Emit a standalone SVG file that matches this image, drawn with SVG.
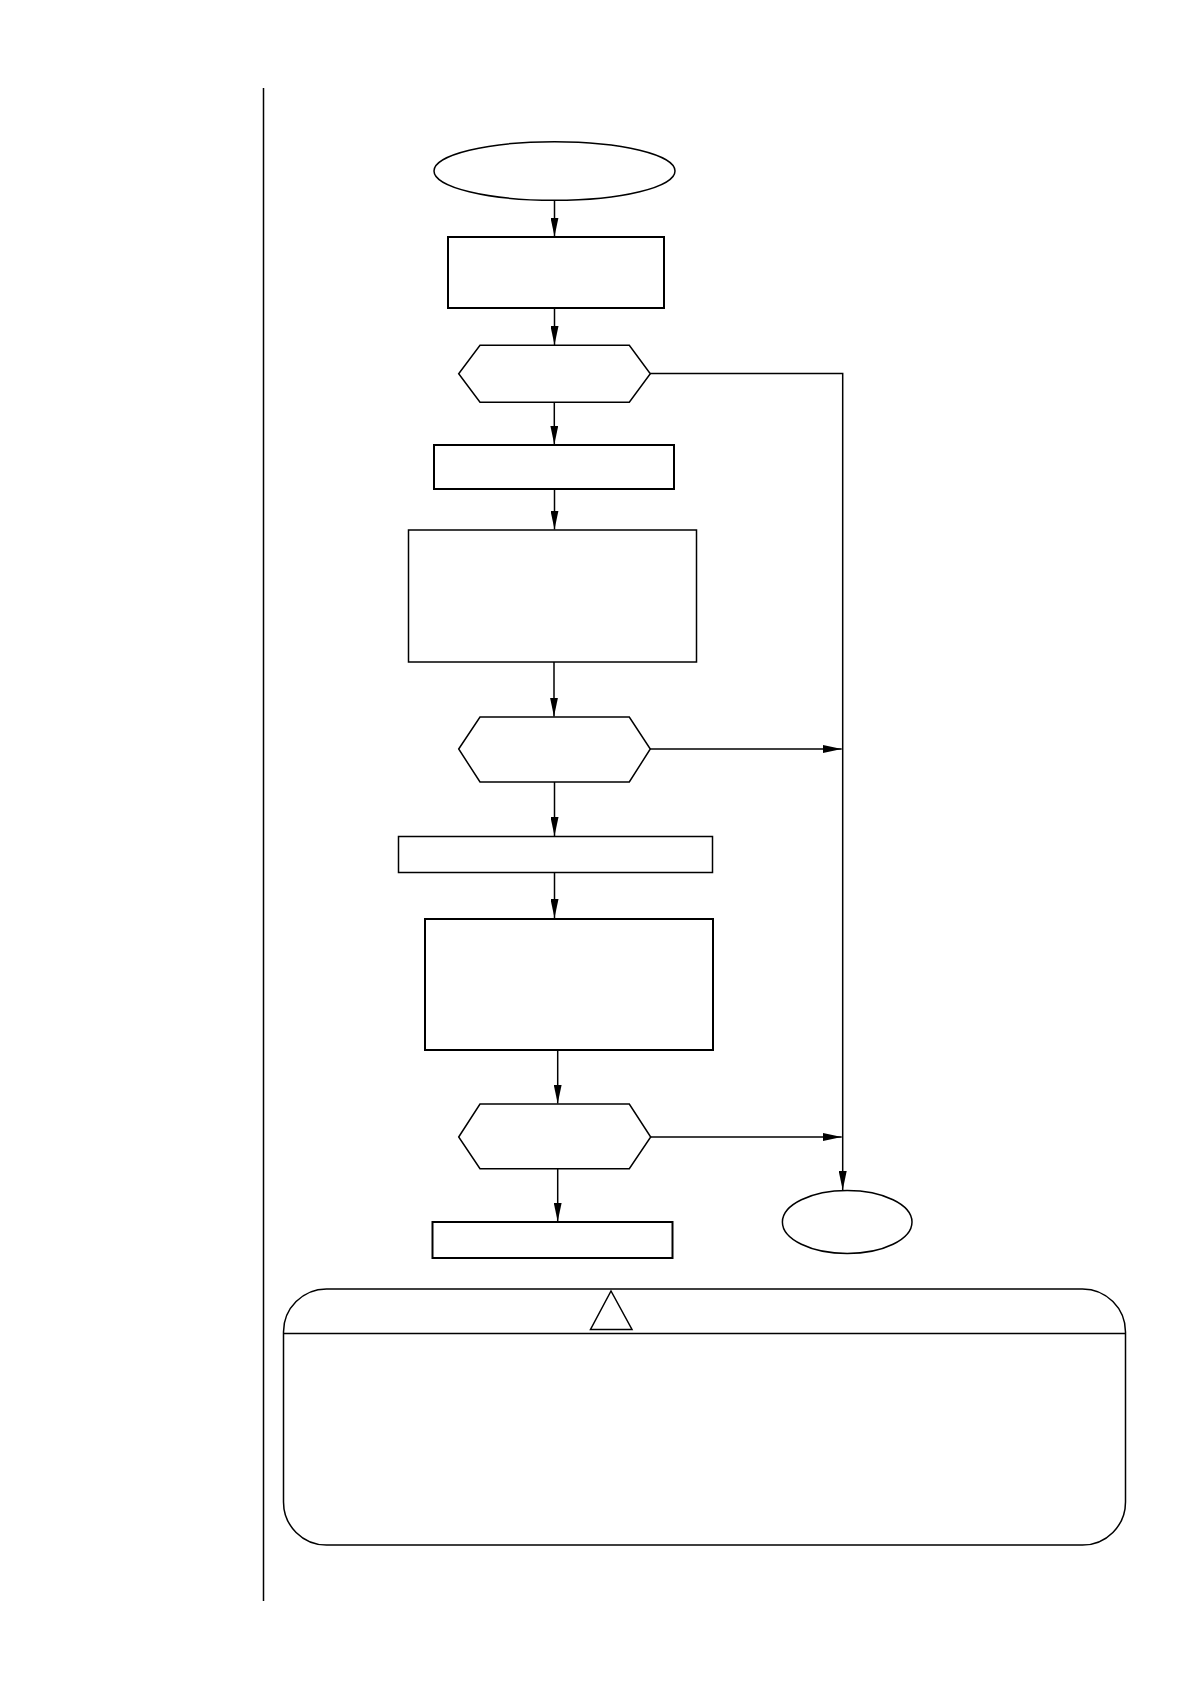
<svg xmlns="http://www.w3.org/2000/svg" width="1190" height="1684" viewBox="0 0 1190 1684">
<defs>
<marker id="arrow" markerUnits="userSpaceOnUse" markerWidth="20" markerHeight="8" refX="19" refY="4" orient="auto"><path d="M0 0L19 4L0 8Z" fill="#000"/></marker>
</defs>
<style>
.n{fill:#fff;stroke:#000;stroke-width:1.5}
.t{stroke-width:2}
.c{fill:none;stroke:#000;stroke-width:1.5}
.a{marker-end:url(#arrow)}
</style>
<rect width="1190" height="1684" fill="#fff"/>
<line id="margin-rule" x1="263.5" y1="88" x2="263.5" y2="1601" class="c"/>
<g id="connectors">
<path class="c a" d="M554.5 200V236.5"/>
<path class="c a" d="M554.5 308V345"/>
<path class="c a" d="M554.3 402V444.5"/>
<path class="c a" d="M554.5 489V529.5"/>
<path class="c a" d="M554 662V716.5"/>
<path class="c a" d="M554.5 782V836"/>
<path class="c a" d="M554.5 872V918"/>
<path class="c a" d="M557.7 1050V1103.5"/>
<path class="c a" d="M557.7 1168V1221.5"/>
<path class="c a" d="M650 373.5H842.7V1190"/>
<path class="c a" d="M650 749H841.7"/>
<path class="c a" d="M650 1137H841.7"/>
</g>
<g id="start"><ellipse class="n" cx="554.5" cy="171" rx="120.5" ry="29.3"/></g>
<g id="step1"><rect class="n t" x="448" y="237" width="216" height="71"/></g>
<g id="decision1"><path class="n" d="M458.7 373.7L480 345.3H629.3L650.3 373.7L629.3 402.3H480Z"/></g>
<g id="step2"><rect class="n t" x="434" y="445" width="240" height="44"/></g>
<g id="step3"><rect class="n" x="408.5" y="530" width="288" height="132"/></g>
<g id="decision2"><path class="n" d="M458.7 749L480 717H629.3L650.3 749L629.3 782H480Z"/></g>
<g id="step4"><rect class="n" x="398.5" y="836.5" width="314" height="36"/></g>
<g id="step5"><rect class="n t" x="425" y="919" width="288" height="131"/></g>
<g id="decision3"><path class="n" d="M458.7 1137L480 1104H629.3L650.7 1137L629.3 1168.7H480Z"/></g>
<g id="step6"><rect class="n t" x="432.5" y="1222" width="240" height="36"/></g>
<g id="end"><ellipse class="n" cx="847.2" cy="1222" rx="64.8" ry="31.5"/></g>
<g id="caution">
<rect class="n" x="283.5" y="1289" width="842" height="256" rx="43" ry="43"/>
<line class="c" x1="283.5" y1="1333.5" x2="1125.5" y2="1333.5"/>
<path class="n" d="M611 1291L590.5 1329.5H632Z"/>
</g>
</svg>
